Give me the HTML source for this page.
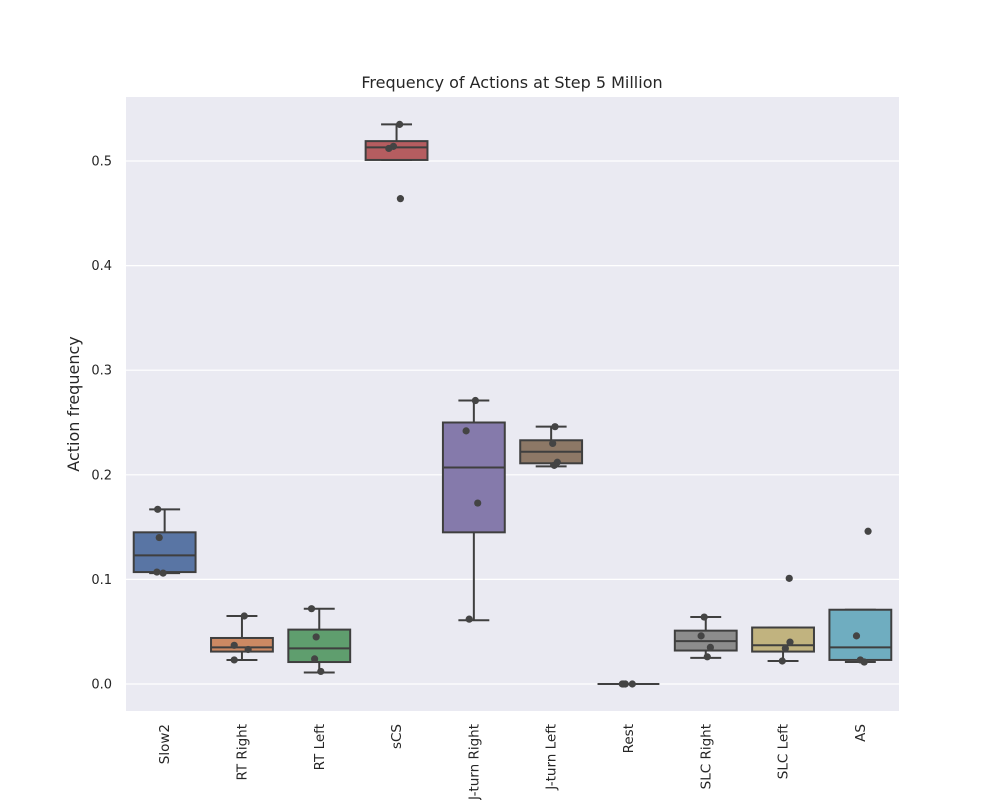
<!DOCTYPE html>
<html><head><meta charset="utf-8"><style>
html,body{margin:0;padding:0;background:#fff;}
svg{display:block;font-family:"DejaVu Sans","Liberation Sans",sans-serif;}
</style></head><body>
<svg id="chart" width="1000" height="800" xmlns="http://www.w3.org/2000/svg">
<rect x="126" y="97" width="773" height="614" fill="#eaeaf2"/>
<g id="grid"></g><g id="marks"></g><g id="axes"></g>
<text x="512" y="88" text-anchor="middle" font-size="16" fill="#262626">Frequency of Actions at Step 5 Million</text>
<text transform="translate(79,404) rotate(-90)" text-anchor="middle" font-size="16" fill="#262626">Action frequency</text>
</svg>
<script>
const categories=["Slow2","RT Right","RT Left","sCS","J-turn Right","J-turn Left","Rest","SLC Right","SLC Left","AS"];
const q1=[0.107,0.031,0.021,0.501,0.145,0.211,0,0.032,0.031,0.023];
const median=[0.123,0.035,0.034,0.513,0.207,0.222,0,0.041,0.037,0.035];
const q3=[0.145,0.044,0.052,0.519,0.250,0.233,0,0.051,0.054,0.071];
const whiskerLow=[0.106,0.023,0.011,0.501,0.061,0.208,0,0.025,0.022,0.021];
const whiskerHigh=[0.167,0.065,0.072,0.535,0.271,0.246,0,0.064,0.054,0.071];
const points=[[0.167,0.140,0.107,0.106],[0.065,0.037,0.033,0.023],[0.072,0.045,0.024,0.012],[0.535,0.514,0.512,0.464],[0.271,0.242,0.173,0.062],[0.246,0.230,0.212,0.209],[0,0,0,0],[0.064,0.046,0.035,0.026],[0.101,0.040,0.034,0.022],[0.146,0.046,0.023,0.021]];
const jitter=[[-0.09,-0.07,-0.1,-0.02],[0.03,-0.1,0.08,-0.1],[-0.1,-0.04,-0.06,0.02],[0.04,-0.04,-0.1,0.05],[0.02,-0.1,0.05,-0.06],[0.05,0.02,0.08,0.04],[-0.08,-0.04,0.05,-0.06],[-0.02,-0.06,0.06,0.02],[0.08,0.09,0.03,-0.01],[0.1,-0.05,0,0.05]];
const yTicks=[0,0.1,0.2,0.3,0.4,0.5];
const yTickLabels=["0.0","0.1","0.2","0.3","0.4","0.5"];
const colors=["#5975a4","#cc8963","#5f9e6e","#b55d60","#857aab","#8d7866","#d095bf","#8c8c8c","#c1b37f","#6fadc0"];
const L=126,W=773,N=categories.length,bw=W/N;
const y=v=>684-(v)*1046;
const x=i=>L+bw*(i+0.5);
const ns="http://www.w3.org/2000/svg";
function mk(p,t,a){const e=document.createElementNS(ns,t);for(const k in a)e.setAttribute(k,a[k]);p.appendChild(e);return e;}
const grid=document.getElementById('grid'),marks=document.getElementById('marks'),axes=document.getElementById('axes');
yTicks.forEach((v,i)=>{
 const g=mk(grid,'line',{x1:L,x2:L+W,y1:y(v),y2:y(v),stroke:'#fff','stroke-width':1.2});
 
 
 const t=mk(axes,'text',{x:112,y:y(v)+4.5,'text-anchor':'end','font-size':13,fill:'#262626'});
 t.textContent=yTickLabels[i];
 
 
});
const stroke='#3f3f3f';
categories.forEach((c,i)=>{
 const cx=x(i),hw=bw*0.4,cw=bw*0.2;
 const grp=mk(marks,'g',{});
 
 
 mk(grp,'line',{x1:cx,x2:cx,y1:y(whiskerHigh[i]),y2:y(q3[i]),stroke,'stroke-width':2});
 mk(grp,'line',{x1:cx,x2:cx,y1:y(q1[i]),y2:y(whiskerLow[i]),stroke,'stroke-width':2});
 mk(grp,'line',{x1:cx-cw,x2:cx+cw,y1:y(whiskerHigh[i]),y2:y(whiskerHigh[i]),stroke,'stroke-width':2});
 mk(grp,'line',{x1:cx-cw,x2:cx+cw,y1:y(whiskerLow[i]),y2:y(whiskerLow[i]),stroke,'stroke-width':2});
 mk(grp,'rect',{x:cx-hw,y:y(q3[i]),width:2*hw,height:Math.max(0,y(q1[i])-y(q3[i])),fill:colors[i],stroke,'stroke-width':2});
 mk(grp,'line',{x1:cx-hw,x2:cx+hw,y1:y(median[i]),y2:y(median[i]),stroke,'stroke-width':2});
 points[i].forEach((v,j)=>{
  const p=mk(grp,'circle',{cx:cx+jitter[i][j]*bw,cy:y(v),r:3.6,fill:'#444'});
  
  
 });
 const t=mk(axes,'text',{transform:`translate(${cx+4.5},724) rotate(-90)`,'text-anchor':'end','font-size':13.5,fill:'#262626'});
 t.textContent=c;
 
 
});
</script>
</body></html>
